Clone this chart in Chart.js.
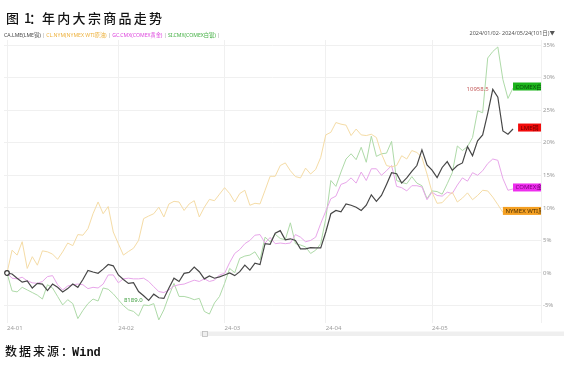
<!DOCTYPE html>
<html><head><meta charset="utf-8">
<script src="https://cdn.jsdelivr.net/npm/chart.js@4.4.0/dist/chart.umd.min.js"></script>
<style>html,body{margin:0;padding:0;background:#fff;}#wrap{position:relative;width:564px;height:365px;}</style>
</head><body><div id="wrap"><canvas id="c" width="564" height="365"></canvas></div>
<script>
// x-axis: trading-day index (0 = 2024/01/02 ... 100 = 2024/05/24)
const tickIdx = [0, 22, 43, 63, 84];
const tickLabels = ['24-01', '24-02', '24-03', '24-04', '24-05'];
const yTicks = [-5, 0, 5, 10, 15, 20, 25, 30, 35];

const seriesNames = ['CA.LME(LME铜)', 'CL.NYM(NYMEX WTI原油)', 'GC.CMX(COMEX黄金)', 'SI.CMX(COMEX白银)'];
const endLabels = ['LME铜', 'NYMEX WTI原油', 'COMEX金', 'COMEX白银'];
const copperMaxLabel = '10958.5';
const copperMinLabel = '8189.0';

// % change since 2024/01/02
const copper = [0,-0.15,-0.8,-1.4,-1.2,-2.3,-1.6,-1.7,-2.7,-1.7,
 -2.2,-2.9,-2.4,-1.7,-2.2,-1.0,0.4,0.15,-0.05,0.6,
 1.3,1.1,-0.3,-1.0,-1.6,-1.5,-2.85,-3.5,-4.2,-3.25,
 -3.8,-3.9,-2.3,-0.8,-1.3,-0.05,0.1,0.9,0.2,-0.9,
 -0.45,-0.8,-0.6,-0.3,0.0,-0.4,0.2,1.2,0.45,1.5,
 1.3,4.5,4.4,6.1,6.5,5.1,5.25,5.0,3.7,3.7,
 3.9,3.85,3.85,6.3,9.1,9.6,9.4,10.6,10.4,10.1,
 9.6,10.4,12.0,11.0,11.9,13.6,15.4,15.25,13.8,14.6,
 15.6,16.5,18.9,16.6,15.8,14.65,16.2,17.1,15.75,16.5,
 16.9,19.4,18.0,20.3,21.2,24.5,28.2,27.0,21.8,21.3,
 22.1];
const oil = [0,3.5,2.75,4.8,0.7,2.5,1.2,3.4,3.25,2.9,
 2.1,3.25,4.6,4.2,5.9,5.8,6.8,9.1,10.9,9.1,
 10.2,6.3,4.5,2.75,3.3,3.8,5.0,8.35,8.75,9.1,
 10.1,8.6,10.6,11.0,10.9,9.6,10.6,11.1,8.6,10.1,
 11.3,11.1,12.1,13.1,12.2,10.9,12.2,12.7,10.4,10.7,
 10.6,12.7,14.85,14.85,16.5,16.9,15.7,14.8,14.6,16.1,
 15.2,15.9,17.75,21.2,21.6,23.1,22.85,22.7,21.1,22.1,
 21.2,21.1,21.3,20.8,18.3,16.5,16.3,16.5,18.0,17.5,
 18.8,18.5,17.75,15.2,12.4,10.7,10.8,11.65,12.4,10.9,
 11.5,12.3,11.25,11.9,12.7,12.6,11.65,10.5,9.3,null,
 null];
const gold = [0,-0.8,-0.9,-0.65,-1.2,-1.5,-1.6,-1.3,-0.55,-0.4,
 -1.8,-2.6,-2.0,-1.8,-1.7,-1.8,-2.4,-2.2,-2.3,-1.7,
 -0.3,-0.3,-1.5,-0.9,-0.8,-0.9,-0.9,-0.8,-1.3,-2.1,
 -2.85,-3.0,-2.6,-2.0,-1.8,-1.7,-1.4,-1.1,-1.3,-0.9,
 -1.3,-1.1,-0.3,-0.05,1.6,3.0,3.6,4.5,5.0,5.8,
 5.9,4.6,5.45,4.5,4.6,4.5,4.6,5.9,5.5,4.8,
 5.0,5.5,7.6,9.5,11.4,11.8,13.6,13.9,14.6,13.8,
 15.5,14.2,16.0,16.0,15.0,15.7,16.5,13.3,13.1,12.6,
 13.4,13.4,13.2,11.25,12.4,11.9,11.8,12.4,12.2,13.5,
 14.6,14.1,15.4,15.0,15.7,16.8,17.5,17.3,14.5,12.7,
 12.9];
const silver = [0,-2.75,-2.9,-2.2,-2.6,-3.0,-3.4,-4.0,-1.8,-2.3,
 -3.6,-4.9,-4.1,-4.7,-7.0,-5.75,-4.7,-4.0,-4.3,-2.3,
 -2.5,-3.2,-4.1,-5.0,-5.65,-5.9,-6.6,-4.9,-5.0,-4.7,
 -7.2,-5.65,-3.5,-1.6,-3.6,-3.6,-3.8,-4.1,-3.9,-5.9,
 -6.3,-4.6,-3.6,-1.6,0.7,0.05,2.25,2.6,2.75,3.25,
 2.0,5.5,4.8,5.95,5.3,5.1,7.7,4.5,4.3,4.0,
 3.0,3.5,4.5,8.35,14.2,13.3,15.5,17.5,18.3,17.4,
 19.3,17.0,21.0,17.9,18.3,18.4,20.2,14.2,13.9,13.7,
 14.8,13.8,13.4,11.4,12.6,12.5,12.1,13.7,15.4,19.5,
 18.8,19.4,20.8,24.9,24.6,33.0,34.0,34.7,29.7,26.8,
 28.4];

const toXY = arr => arr.map((v, i) => ({x: i, y: v}));
const FONT = '"Noto Sans", "Noto Sans CJK SC", sans-serif';

const lineColors = ['#474747', '#F5DCA6', '#E8A6EA', '#AEDAA8'];
const legendColors = ['#444444', '#EDB13C', '#DD44DD', '#3FAE3F'];
const boxFill = ['#F20A0A', '#F4A023', '#EE2EEE', '#1CB41C'];
const boxText = ['#6A0000', '#4A2E00', '#7A007A', '#0A4F0A'];
const allSeries = [copper, oil, gold, silver];

const extras = {
  id: 'extras',
  beforeDraw(chart) {
    const ctx = chart.ctx;
    ctx.save(); ctx.fillStyle = '#fff'; ctx.fillRect(0, 0, chart.width, chart.height); ctx.restore();
  },
  afterDatasetsDraw(chart) {
    const ctx = chart.ctx, xs = chart.scales.x, ys = chart.scales.y, area = chart.chartArea;
    let maxI = 0, minI = 0;
    copper.forEach((v, i) => { if (v > copper[maxI]) maxI = i; if (v < copper[minI]) minI = i; });
    ctx.save();
    ctx.font = '6px ' + FONT; ctx.textBaseline = 'middle'; ctx.textAlign = 'right';
    ctx.fillStyle = '#C45A5A';
    ctx.fillText(copperMaxLabel, xs.getPixelForValue(maxI) - 4, ys.getPixelForValue(copper[maxI]));
    ctx.fillStyle = '#3E9E3E';
    ctx.fillText(copperMinLabel, xs.getPixelForValue(minI) - 6, ys.getPixelForValue(copper[minI]));
    ctx.beginPath();
    ctx.arc(xs.getPixelForValue(0), ys.getPixelForValue(copper[0]), 2.3, 0, Math.PI * 2);
    ctx.fillStyle = '#fff'; ctx.fill(); ctx.lineWidth = 1.2; ctx.strokeStyle = '#333'; ctx.stroke();
    ctx.restore();
    ctx.save();
    ctx.beginPath(); ctx.rect(0, 0, area.right, chart.height); ctx.clip();
    ctx.font = '6px ' + FONT; ctx.textBaseline = 'middle'; ctx.textAlign = 'left';
    allSeries.forEach((arr, k) => {
      let last = arr.length - 1;
      while (arr[last] === null) last--;
      const px = xs.getPixelForValue(last), py = ys.getPixelForValue(arr[last]) - 1.5;
      const w = ctx.measureText(endLabels[k]).width + 5;
      const left = Math.max(px, area.right - w);
      ctx.fillStyle = boxFill[k];
      ctx.fillRect(left, py - 4, w, 8);
      ctx.fillStyle = boxText[k];
      ctx.fillText(endLabels[k], left + 2.5, py + 0.3);
    });
    ctx.restore();
  },
  afterDraw(chart) {
    const ctx = chart.ctx;
    ctx.save();
    ctx.fillStyle = '#111'; ctx.textBaseline = 'alphabetic'; ctx.textAlign = 'left';
    ctx.font = '500 13px "Noto Sans CJK SC", sans-serif';
    ctx.fillText('图', 6, 22.5);
    ctx.fillText('1', 24, 22.5);
    ctx.fillText('：', 29, 22.5);
    if ('letterSpacing' in ctx) ctx.letterSpacing = '2.3px';
    ctx.fillText('年内大宗商品走势', 42, 22.5);
    if ('letterSpacing' in ctx) ctx.letterSpacing = '0px';
    ctx.font = '500 12px "Noto Sans CJK SC", sans-serif';
    if ('letterSpacing' in ctx) ctx.letterSpacing = '2px';
    ctx.fillText('数据来源：', 5, 356);
    if ('letterSpacing' in ctx) ctx.letterSpacing = '0px';
    ctx.font = 'bold 12px "Liberation Mono", monospace';
    ctx.fillText('Wind', 72, 356);
    ctx.font = '6px ' + FONT; ctx.textBaseline = 'middle';
    const parts = [];
    seriesNames.forEach((n, k) => { parts.push([n, legendColors[k]]); parts.push([' | ', '#999']); });
    let total = parts.reduce((s, p) => s + ctx.measureText(p[0]).width, 0);
    const scale = 218 / total;
    ctx.font = (6 * scale).toFixed(2) + 'px ' + FONT;
    let x = 4;
    parts.forEach(p => { ctx.fillStyle = p[1]; ctx.fillText(p[0], x, 35.5); x += ctx.measureText(p[0]).width; });
    ctx.font = '5.5px ' + FONT; ctx.fillStyle = '#555'; ctx.textAlign = 'right';
    ctx.fillText('2024/01/02- 2024/05/24(101日)▼', 555, 33);
    ctx.fillStyle = '#EFEFEF'; ctx.fillRect(200, 331.5, 364, 4.5);
    ctx.strokeStyle = '#BBBBBB'; ctx.lineWidth = 0.8; ctx.strokeRect(202.5, 331.5, 5, 5);
    ctx.restore();
  }
};

new Chart(document.getElementById('c'), {
  type: 'line',
  data: {
    datasets: allSeries.map((arr, k) => ({
      label: seriesNames[k],
      data: toXY(arr),
      borderColor: lineColors[k],
      borderWidth: k === 0 ? 1.2 : 1,
      pointRadius: 0,
      tension: 0,
      fill: false,
      spanGaps: false
    }))
  },
  options: {
    responsive: false, animation: false, devicePixelRatio: 1,
    layout: {padding: {left: 4, top: 40, right: 0, bottom: 0}},
    plugins: {legend: {display: false}, tooltip: {enabled: false}},
    scales: {
      x: {
        type: 'linear', min: -0.593, max: 105.53,
        border: {display: false},
        grid: {color: '#F0F0F0', lineWidth: 1, drawTicks: false},
        afterBuildTicks: s => { s.ticks = tickIdx.map(v => ({value: v})).concat([{value: 105.53}]); },
        ticks: {
          autoSkip: false, maxRotation: 0, align: 'start', padding: 2.5,
          color: '#9C9C9C', font: {size: 6, family: FONT},
          callback: v => { const k = tickIdx.indexOf(v); return k >= 0 ? tickLabels[k] : ''; }
        },
        afterFit: s => { s.height = 42.5; }
      },
      y: {
        position: 'right', min: -7.6, max: 35.77,
        border: {display: false},
        grid: {color: '#F0F0F0', lineWidth: 1, drawTicks: false},
        afterBuildTicks: s => { s.ticks = yTicks.map(v => ({value: v})); },
        ticks: {padding: 2, color: '#9C9C9C', font: {size: 6, family: FONT}, callback: v => v + '%'},
        afterFit: s => { s.width = 23; }
      }
    }
  },
  plugins: [extras]
});
</script>
</body></html>
